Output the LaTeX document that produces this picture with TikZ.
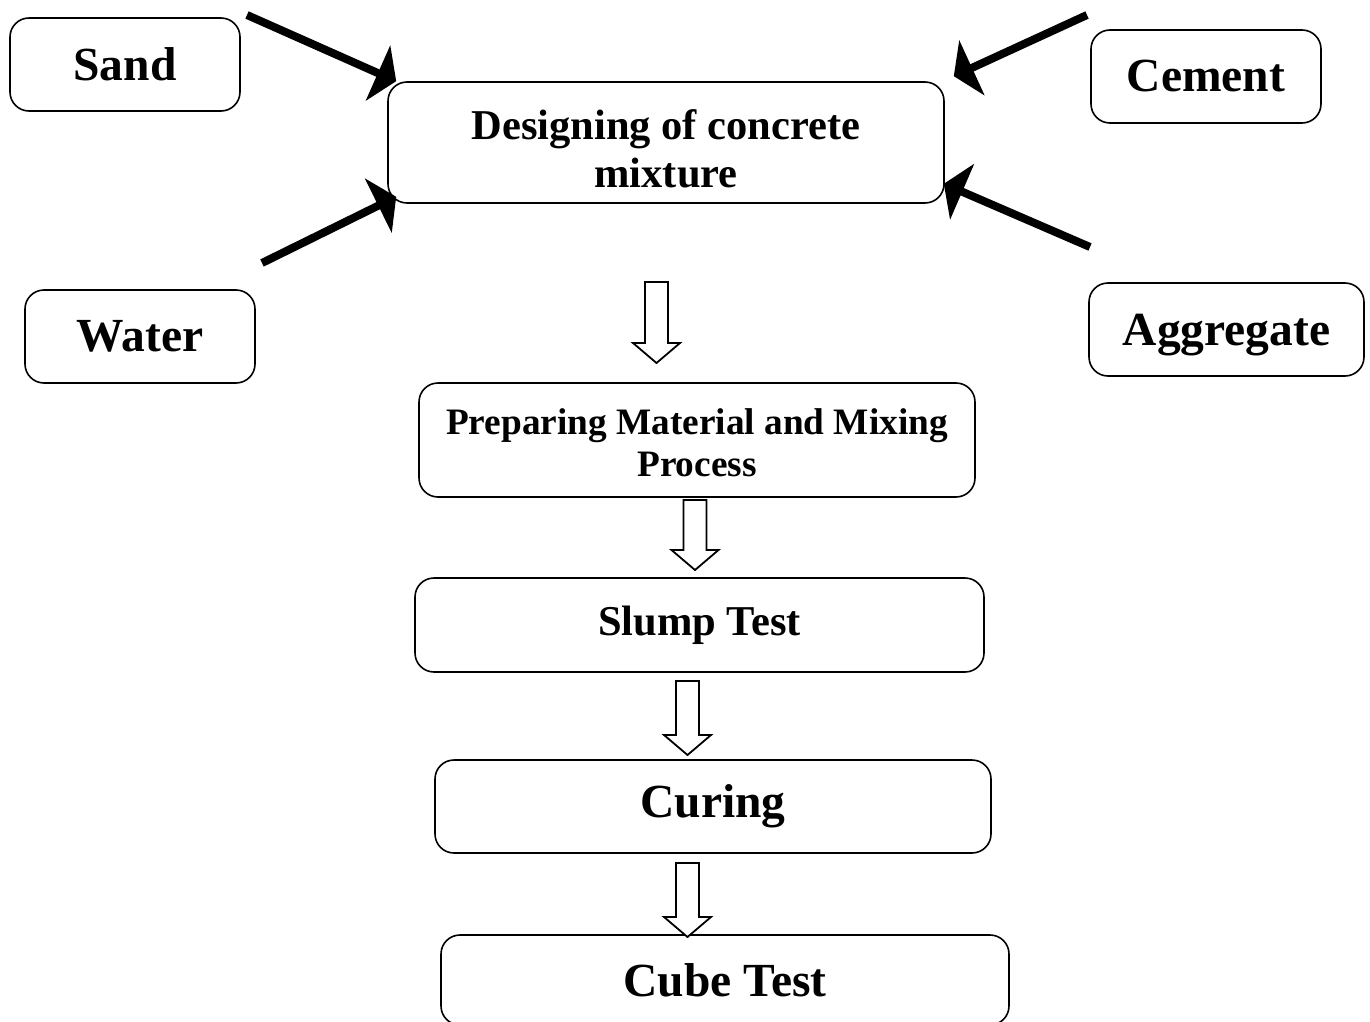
\documentclass[tikz,border=0pt]{standalone}
\usepackage{fontspec}
\setmainfont{Liberation Serif}
\usetikzlibrary{arrows.meta}
\tikzset{
  box/.style={draw=black, line width=1.6pt, rounded corners=19pt, align=center, inner sep=0pt, font=\bfseries},
  big/.style={font=\fontsize{47.5}{50}\selectfont\bfseries},
  mid/.style={font=\fontsize{42.5}{48}\selectfont\bfseries},
  small/.style={font=\fontsize{37.3}{42}\selectfont\bfseries},
  label/.style={align=center, inner sep=0pt},
  feed/.style={line width=8pt, -{Triangle[length=20pt,width=60pt]}},
  blockarrow/.style={draw=black, line width=1.8pt, fill=white, line join=miter}
}
\newcommand\blockarr[3]{%
  \path[blockarrow] ({#1-11.5},{#2}) -- ({#1+11.5},{#2}) -- ({#1+11.5},{#3+20}) -- ({#1+23.5},{#3+20}) -- ({#1},{#3}) -- ({#1-23.5},{#3+20}) -- ({#1-11.5},{#3+20}) -- cycle;}
\begin{document}
\begin{tikzpicture}[x=1pt,y=1pt]
\useasboundingbox (0,0) rectangle (1370,-1022);
% input boxes
\node[box,big,minimum width=230pt,minimum height=93pt] (sand) at (125,-64.5) {Sand};
\node[box,big,minimum width=230pt,minimum height=93pt] (cement) at (1206,-76.5) {Cement};
\node[box,big,minimum width=230pt,minimum height=93pt] (water) at (140,-336.5) {Water};
\node[box,big,minimum width=275pt,minimum height=93pt,text depth=0pt] (aggr) at (1226.5,-329.5) {Aggregate};
% process boxes
\node[box,minimum width=556pt,minimum height=121pt] (design) at (666,-142.5) {};
\node[label,mid] (designT) at ([yshift=-6pt]design.center) {Designing of concrete\\mixture};
\node[box,minimum width=556pt,minimum height=114pt] (prep) at (697,-440) {};
\node[label,small] (prepT) at ([yshift=-3pt]prep.center) {Preparing Material and Mixing\\Process};
\node[box,mid,minimum width=569pt,minimum height=94pt] (slump) at (699.5,-625) {Slump Test};
\node[box,big,minimum width=556pt,minimum height=93pt] (curing) at (713,-806.5) {Curing};
\node[box,big,minimum width=568pt,minimum height=90pt,text depth=0pt] (cube) at (725,-980) {Cube Test};
% feed arrows
\coordinate (sandS) at (247,-15);
\coordinate (waterS) at (262,-263);
\coordinate (cementS) at (1087,-15);
\coordinate (aggrS) at (1090,-247);
\draw[feed] (sandS) -- ([xshift=9pt]design.north west);
\draw[feed] (waterS) -- ([xshift=9pt,yshift=7pt]design.south west);
\draw[feed] (cementS) -- ([xshift=9pt,yshift=5pt]design.north east);
\draw[feed] (aggrS) -- ([xshift=-1pt,yshift=20pt]design.south east);
% block arrows
\blockarr{656.5}{-282}{-363}
\blockarr{695}{-500}{-570}
\blockarr{687.5}{-681}{-755}
\blockarr{687.5}{-863}{-937}
\end{tikzpicture}
\end{document}
